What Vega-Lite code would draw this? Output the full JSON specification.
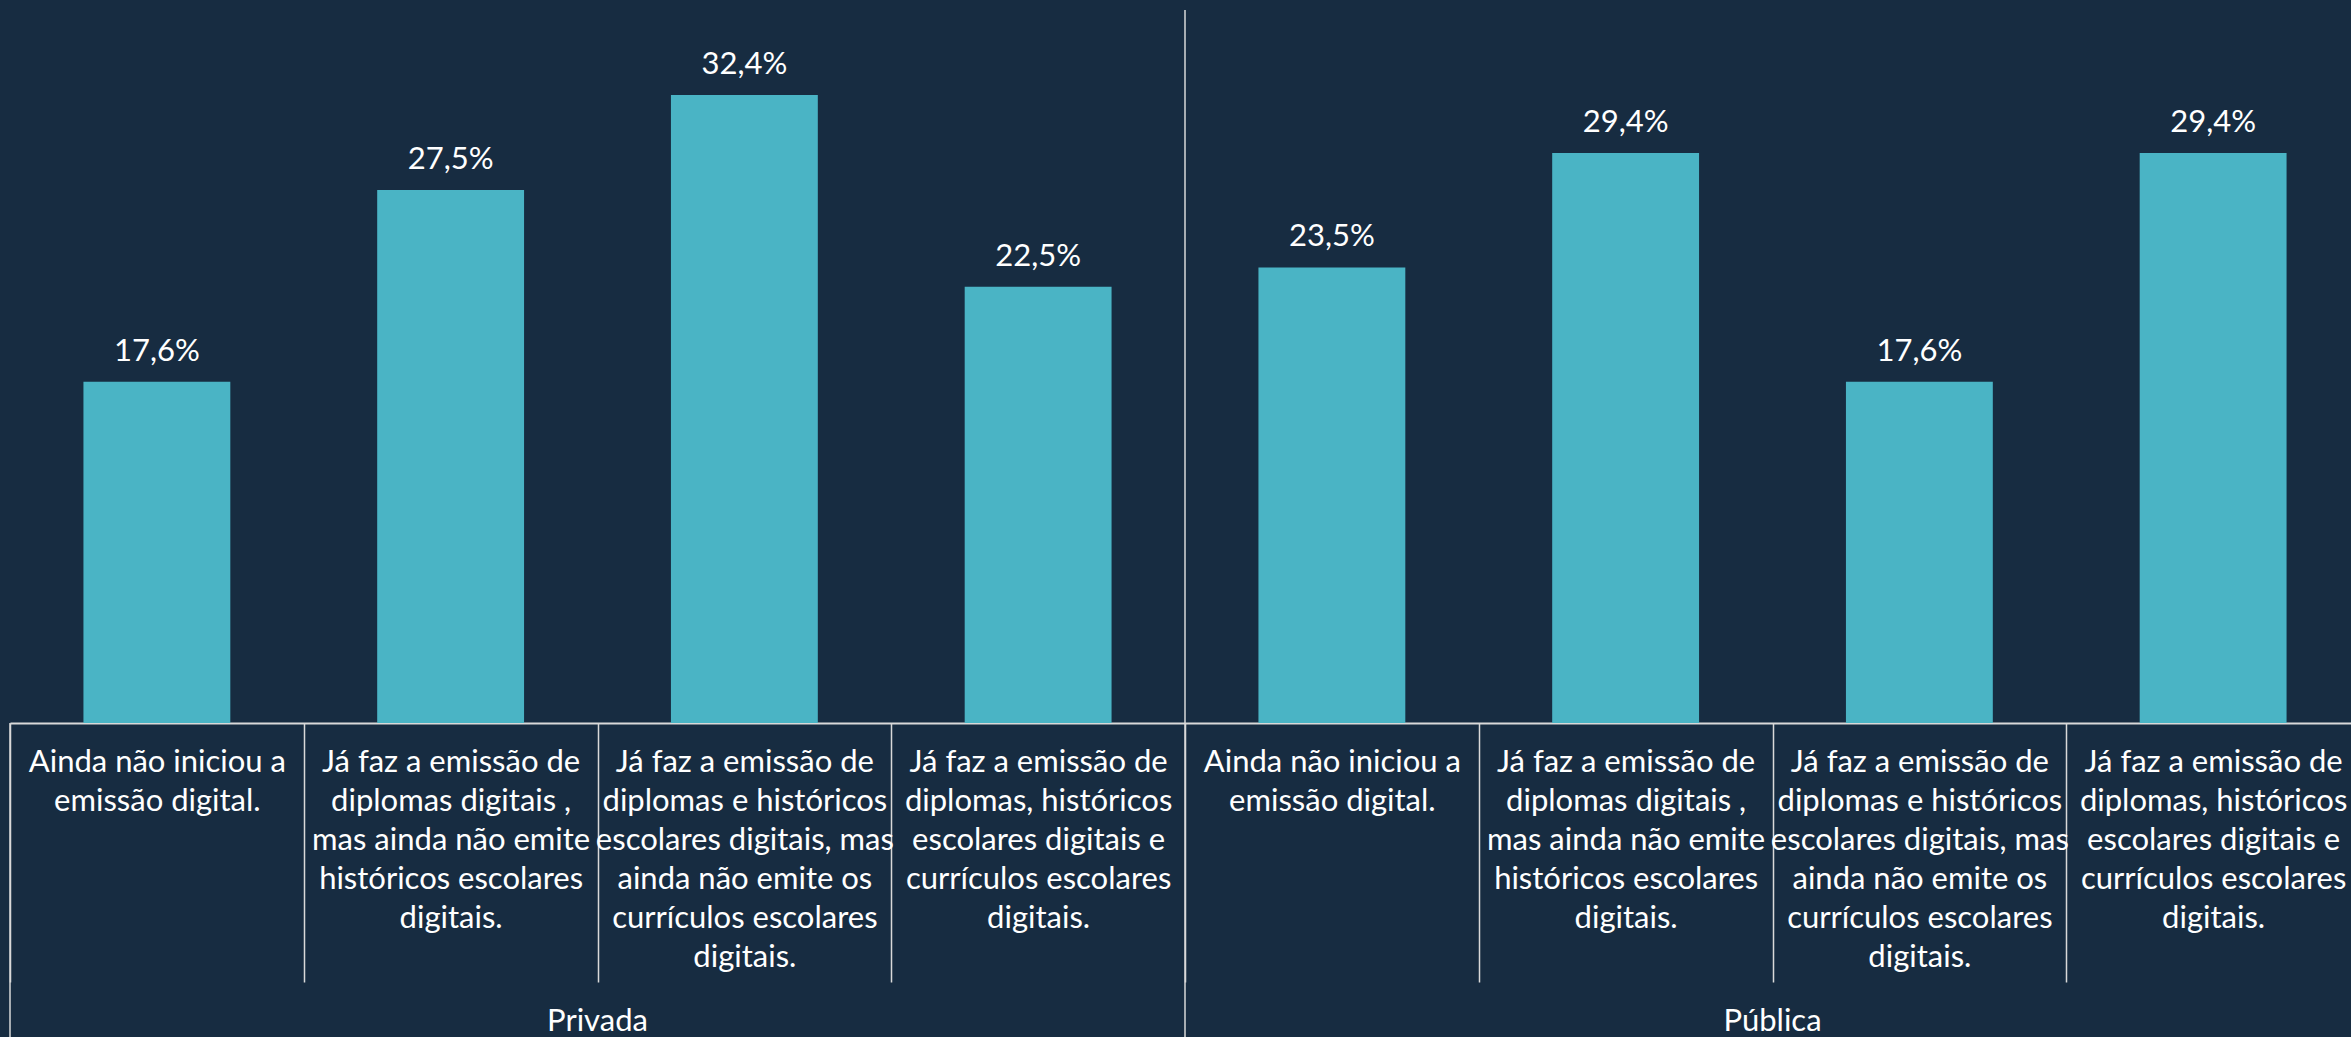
{
  "$schema": "https://vega.github.io/schema/vega-lite/v6.json",
  "width": 2341,
  "height": 713,
  "autosize": {"type": "none"},
  "padding": {"left": 10, "top": 10, "right": 0, "bottom": 314},
  "background": "#172C41",
  "config": {"view": {"stroke": null}, "font": "Lato"},
  "data": {
    "values": [
      {"group": "Privada", "cat_id": 1, "key": "Privada|Ainda não iniciou a|emissão digital.", "value": 17.6, "label": "17,6%"},
      {"group": "Privada", "cat_id": 2, "key": "Privada|Já faz a emissão de|diplomas digitais ,|mas ainda não emite|históricos escolares|digitais.", "value": 27.5, "label": "27,5%"},
      {"group": "Privada", "cat_id": 3, "key": "Privada|Já faz a emissão de|diplomas e históricos|escolares digitais, mas|ainda não emite os|currículos escolares|digitais.", "value": 32.4, "label": "32,4%"},
      {"group": "Privada", "cat_id": 4, "key": "Privada|Já faz a emissão de|diplomas, históricos|escolares digitais e|currículos escolares|digitais.", "value": 22.5, "label": "22,5%"},
      {"group": "Pública", "cat_id": 1, "key": "Pública|Ainda não iniciou a|emissão digital.", "value": 23.5, "label": "23,5%"},
      {"group": "Pública", "cat_id": 2, "key": "Pública|Já faz a emissão de|diplomas digitais ,|mas ainda não emite|históricos escolares|digitais.", "value": 29.4, "label": "29,4%"},
      {"group": "Pública", "cat_id": 3, "key": "Pública|Já faz a emissão de|diplomas e históricos|escolares digitais, mas|ainda não emite os|currículos escolares|digitais.", "value": 17.6, "label": "17,6%"},
      {"group": "Pública", "cat_id": 4, "key": "Pública|Já faz a emissão de|diplomas, históricos|escolares digitais e|currículos escolares|digitais.", "value": 29.4, "label": "29,4%"}
    ]
  },
  "encoding": {
    "x": {
      "field": "key",
      "type": "nominal",
      "sort": null,
      "scale": {"range": [0, 2350], "paddingInner": 0, "paddingOuter": 0},
      "axis": {
        "title": null,
        "labelExpr": "slice(split(datum.value, '|'), 1)",
        "labelAngle": 0,
        "labelColor": "#FFFFFF",
        "labelFontSize": 31,
        "labelLineHeight": 39,
        "labelBaseline": "top",
        "labelAlign": "center",
        "labelPadding": -235,
        "labelLimit": 0,
        "labelOverlap": false,
        "labelBound": false,
        "labelFlush": false,
        "tickBand": "extent",
        "tickSize": 259,
        "tickColor": "#D9D9D9",
        "tickWidth": 1.5,
        "domainColor": "#D9D9D9",
        "domainWidth": 2
      }
    },
    "y": {
      "field": "value",
      "type": "quantitative",
      "scale": {"domain": [0, 36.78], "nice": false},
      "axis": null
    }
  },
  "layer": [
    {
      "mark": {"type": "bar", "color": "#4AB4C5", "width": {"band": 0.5}}
    },
    {
      "mark": {"type": "text", "dy": -30, "color": "#FFFFFF", "fontSize": 31, "baseline": "middle"},
      "encoding": {"text": {"field": "label"}}
    },
    {
      "transform": [{"filter": "datum.cat_id == 1 && datum.group == 'Privada'"}],
      "mark": {"type": "rule", "color": "#D9D9D9", "strokeWidth": 1.5},
      "encoding": {
        "x": {"field": "key", "type": "nominal", "sort": null, "bandPosition": 0},
        "y": {"datum": 0},
        "y2": {"datum": -16.3}
      }
    },
    {
      "transform": [{"filter": "datum.cat_id == 1 && datum.group == 'Pública'"}],
      "mark": {"type": "rule", "color": "#D9D9D9", "strokeWidth": 1.5},
      "encoding": {
        "x": {"field": "key", "type": "nominal", "sort": null, "bandPosition": 0},
        "y": {"datum": 36.78},
        "y2": {"datum": -16.3}
      }
    },
    {
      "transform": [{"filter": "datum.cat_id == 3"}],
      "mark": {"type": "text", "color": "#FFFFFF", "fontSize": 31, "baseline": "middle", "align": "center"},
      "encoding": {
        "x": {"field": "key", "type": "nominal", "sort": null, "bandPosition": 0},
        "y": {"datum": -15.43},
        "text": {"field": "group"}
      }
    }
  ]
}
